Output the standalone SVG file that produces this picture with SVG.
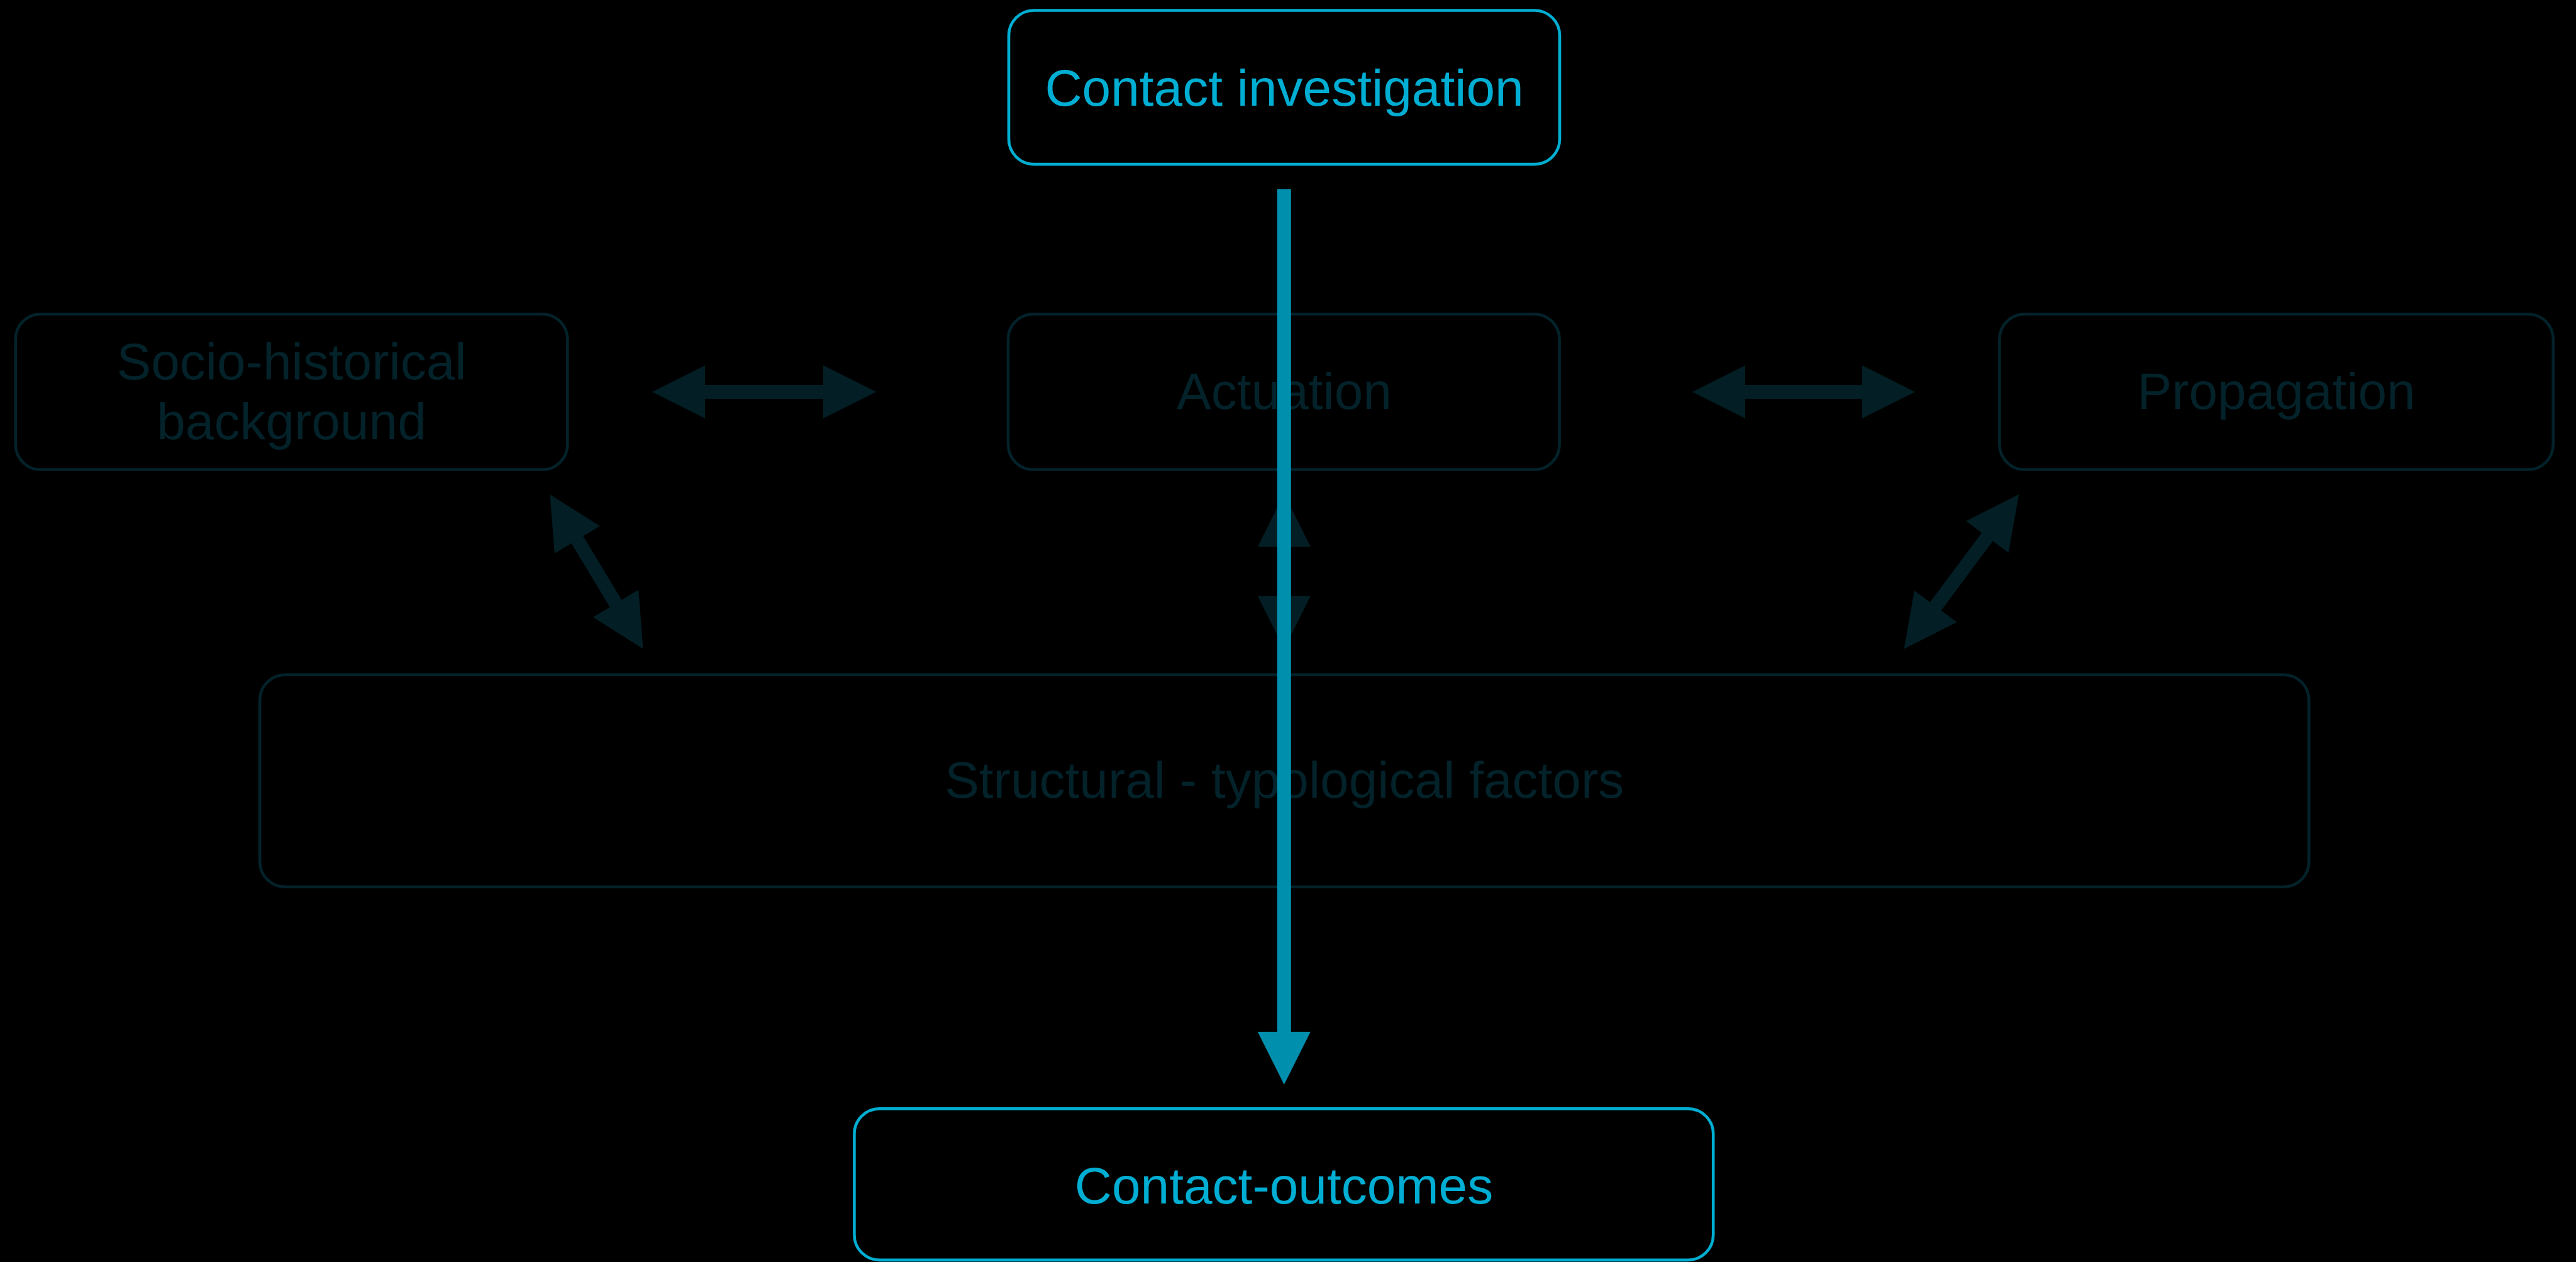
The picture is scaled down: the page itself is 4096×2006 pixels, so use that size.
<svg xmlns="http://www.w3.org/2000/svg" width="4096" height="2006" viewBox="0 0 4096 2006">
<style>
.dk{fill:none;stroke:#03222A;stroke-width:4.6}
.cy{fill:none;stroke:#00AED2;stroke-width:4.6}
.t{font-family:"Liberation Sans",Arial,Helvetica,sans-serif;font-size:82px;text-anchor:middle}
.td{fill:#03222A}
.tc{fill:#00AED3}
.da{stroke:#031E24;stroke-width:22;fill:none}
</style>
<defs>
<marker id="hd" markerUnits="userSpaceOnUse" viewBox="0 -42.2 84.3 84.4" markerWidth="84.3" markerHeight="84.4" refX="1" refY="0" orient="auto-start-reverse">
<path d="M0,-42.2 L84.3,0 L0,42.2 Z" fill="#031E24"/>
</marker>
<marker id="hc" markerUnits="userSpaceOnUse" viewBox="0 -42.2 84.3 84.4" markerWidth="84.3" markerHeight="84.4" refX="1" refY="0" orient="auto">
<path d="M0,-42.2 L84.3,0 L0,42.2 Z" fill="#0090AE"/>
</marker>
</defs>
<rect width="4096" height="2006" fill="#000"/>

<g id="node-contact-investigation">
<rect class="cy" x="1604" y="16.5" width="876" height="244.6" rx="40"/>
<text class="t tc" x="2042" y="167.6">Contact investigation</text>
</g>
<g id="node-socio-historical">
<rect class="dk" x="24.7" y="499.2" width="877.6" height="247.3" rx="40"/>
<text class="t td" x="463.5" y="602.7">Socio-historical</text>
<text class="t td" x="463.5" y="698">background</text>
</g>
<g id="node-actuation">
<rect class="dk" x="1603" y="499.2" width="876.6" height="247.3" rx="40"/>
<text class="t td" x="2042" y="650.4">Actuation</text>
</g>
<g id="node-propagation">
<rect class="dk" x="3179.4" y="499.2" width="880.3" height="247.3" rx="40"/>
<text class="t td" x="3619.6" y="650.4">Propagation</text>
</g>
<g id="node-structural">
<rect class="dk" x="413.1" y="1072.6" width="3258.2" height="337.1" rx="40"/>
<text class="t td" x="2042.2" y="1267.7">Structural - typological factors</text>
</g>
<g id="node-contact-outcomes">
<rect class="cy" x="1358.4" y="1762.4" width="1365.8" height="240.5" rx="40"/>
<text class="t tc" x="2041.5" y="1912.6">Contact-outcomes</text>
</g>

<g id="connectors">
<line class="da" x1="1120.3" y1="622.9" x2="1309.9" y2="622.9" marker-start="url(#hd)" marker-end="url(#hd)"/>
<line class="da" x1="2774.3" y1="622.9" x2="2961.7" y2="622.9" marker-start="url(#hd)" marker-end="url(#hd)"/>
<line class="da" x1="2041.8" y1="868.4" x2="2041.8" y2="948" marker-start="url(#hd)" marker-end="url(#hd)"/>
<line class="da" x1="917.5" y1="857.2" x2="979.6" y2="960.1" marker-start="url(#hd)" marker-end="url(#hd)"/>
<line class="da" x1="3160.4" y1="852.7" x2="3077.2" y2="964.6" marker-start="url(#hd)" marker-end="url(#hd)"/>
<line x1="2041.8" y1="300.4" x2="2041.8" y2="1640.6" stroke="#0090AE" stroke-width="22" marker-end="url(#hc)"/>
</g>
</svg>
